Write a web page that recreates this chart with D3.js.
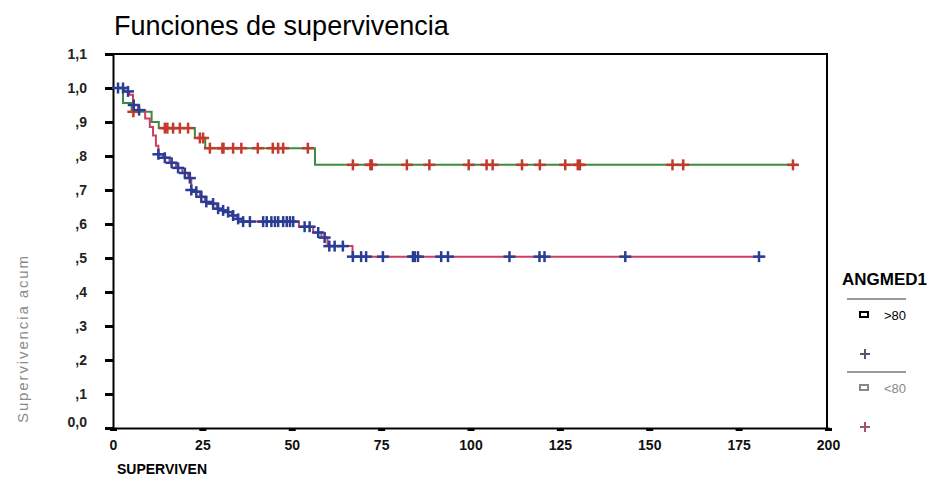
<!DOCTYPE html>
<html><head><meta charset="utf-8">
<script src="https://cdn.jsdelivr.net/npm/d3@7"></script>
<style>body{margin:0;background:#fff} svg{display:block}</style>
</head><body><svg id="c" width="945" height="502"></svg>
<script>
const title = "Funciones de supervivencia";
const xLabel = "SUPERVIVEN";
const yLabel = "Supervivencia acum";
const legendTitle = "ANGMED1";
const groupNames = [">80", "<80"];
const xTicks = [0, 25, 50, 75, 100, 125, 150, 175, 200];
const yTicks = [0, 0.1, 0.2, 0.3, 0.4, 0.5, 0.6, 0.7, 0.8, 0.9, 1.0, 1.1];
const yTickLabels = ["0,0", ",1", ",2", ",3", ",4", ",5", ",6", ",7", ",8", ",9", "1,0", "1,1"];

// Group ">80": [time, cumulative survival after the event]
const stepsGt80 = [[0, 1.0], [3.2, 0.99], [4.6, 0.98], [5.6, 0.95], [7.0, 0.935], [9.0, 0.91], [10.3, 0.885],
  [11.2, 0.86], [12.0, 0.83], [12.7, 0.805], [14.0, 0.795], [15.8, 0.78], [17.6, 0.765], [19.4, 0.75],
  [21.0, 0.735], [21.9, 0.70], [23.0, 0.695], [24.3, 0.68], [25.7, 0.665], [27.5, 0.66], [29.0, 0.645],
  [30.5, 0.64], [32.0, 0.635], [33.3, 0.625], [34.7, 0.615], [36.0, 0.607], [52.0, 0.592], [56.0, 0.575],
  [58.3, 0.56], [60.0, 0.535], [67.0, 0.504]];
const endGt80 = 182.5;
const censorGt80 = [1.4, 2.8, 4.2, 5.8, 7.3, 12.7, 14.5, 16.4, 18.2, 20.1, 21.5, 21.9, 23.3, 24.7, 26.1, 28.0,
  29.4, 30.8, 32.2, 33.6, 35.0, 36.4, 38.3, 42.0, 43.0, 44.3, 45.3, 46.2, 47.6, 48.6, 49.5, 50.4, 53.6, 55.0,
  57.4, 59.2, 60.5, 62.0, 64.3, 67.1, 69.4, 70.8, 75.5, 83.9, 84.4, 85.3, 91.8, 93.7, 110.9, 119.3, 120.7,
  143.3, 180.7];

// Group "<80"
const stepsLt80 = [[0, 1.0], [2.8, 0.956], [5.2, 0.93], [10.8, 0.90], [12.8, 0.882], [22.9, 0.853],
  [25.8, 0.823], [56.5, 0.774]];
const endLt80 = 191.5;
const censorLt80 = [5.7, 14.5, 15.2, 16.8, 18.7, 21.0, 24.3, 25.2, 27.1, 30.6, 30.9, 33.6, 35.9, 40.5, 44.7,
  46.2, 47.6, 54.5, 67.1, 72.0, 72.4, 82.2, 88.5, 99.5, 104.5, 106.2, 114.4, 119.4, 126.5, 130.0, 130.6,
  156.5, 159.5, 190.2];

const svg = d3.select("#c");
const font = "'Liberation Sans', Arial, sans-serif";
const x = d3.scaleLinear().domain([0, 200]).range([113, 828]);
const y = d3.scaleLinear().domain([0, 1.1]).range([428, 54]);

// title
svg.append("text").attr("x", 114).attr("y", 35).attr("font-family", font).attr("font-size", 27)
  .attr("fill", "#000").text(title);

// frame (top and right)
svg.append("line").attr("x1", x(0)).attr("x2", x(200)).attr("y1", y(1.1)).attr("y2", y(1.1))
  .attr("stroke", "#000").attr("stroke-width", 2);
svg.append("line").attr("x1", x(200) - 1).attr("x2", x(200) - 1).attr("y1", y(1.1)).attr("y2", y(0))
  .attr("stroke", "#000").attr("stroke-width", 2);

// axes
const yAxis = svg.append("g").attr("transform", `translate(${x(0)},0)`)
  .call(d3.axisLeft(y).tickValues(yTicks).tickSize(8).tickPadding(18)
    .tickFormat((d, i) => yTickLabels[i]));
yAxis.select(".domain").attr("stroke", "#000").attr("stroke-width", 2);
yAxis.selectAll(".tick line").attr("stroke", "#000").attr("stroke-width", 3);
yAxis.selectAll(".tick text").attr("font-family", font).attr("font-size", 14).attr("font-weight", "bold")
  .attr("fill", "#222").attr("dy", (d) => d === 0 ? "-0.1em" : "0.32em");

const xAxis = svg.append("g").attr("transform", `translate(0,${y(0)})`)
  .call(d3.axisBottom(x).tickValues(xTicks).tickSize(3).tickPadding(9).tickFormat(d3.format("d")));
xAxis.select(".domain").attr("stroke", "#000").attr("stroke-width", 2);
xAxis.selectAll(".tick line").attr("stroke", "#000").attr("stroke-width", 7);
xAxis.selectAll(".tick text").attr("font-family", font).attr("font-size", 14).attr("font-weight", "bold")
  .attr("fill", "#111");

// axis titles
svg.append("text").attr("transform", "translate(28,423) rotate(-90)").attr("font-family", font)
  .attr("font-size", 15).attr("fill", "#8a8a8a").attr("textLength", 167).attr("lengthAdjust", "spacing")
  .text(yLabel);
svg.append("text").attr("x", 117).attr("y", 474).attr("font-family", font).attr("font-size", 14)
  .attr("font-weight", "bold").attr("fill", "#000").text(xLabel);

// curves
const line = d3.line().x(d => x(d[0])).y(d => y(d[1])).curve(d3.curveStepAfter);
function survAt(steps, t) {
  let s = steps[0][1];
  for (const p of steps) if (p[0] <= t) s = p[1];
  return s;
}
const groups = [
  { steps: stepsLt80, end: endLt80, censor: censorLt80, line: "#3d8c3d", mark: "#c23a2c" },
  { steps: stepsGt80, end: endGt80, censor: censorGt80, line: "#cf3d62", mark: "#2a3d96" }
];
groups.forEach(g => {
  const pts = g.steps.concat([[g.end, g.steps[g.steps.length - 1][1]]]);
  svg.append("path").attr("d", line(pts)).attr("fill", "none").attr("stroke", g.line).attr("stroke-width", 2);
});
groups.forEach(g => {
  const m = svg.append("g");
  g.censor.forEach(t => {
    const cx = x(t), cy = y(survAt(g.steps, t));
    m.append("line").attr("x1", cx - 6).attr("x2", cx + 6).attr("y1", cy).attr("y2", cy)
      .attr("stroke", g.mark).attr("stroke-width", 2.5);
    m.append("line").attr("x1", cx).attr("x2", cx).attr("y1", cy - 5.5).attr("y2", cy + 5.5)
      .attr("stroke", g.mark).attr("stroke-width", 2.5);
  });
});

// legend
const lg = svg.append("g").attr("font-family", font);
lg.append("text").attr("x", 842).attr("y", 285).attr("font-size", 17).attr("font-weight", "bold")
  .attr("fill", "#000").text(legendTitle);
const legendRows = [
  { name: groupNames[0], y0: 299, sq: "#000", txt: "#000", cross: "#4f5a6e" },
  { name: groupNames[1], y0: 372, sq: "#888", txt: "#888", cross: "#9a5868" }
];
legendRows.forEach(r => {
  lg.append("line").attr("x1", 847).attr("x2", 906).attr("y1", r.y0).attr("y2", r.y0)
    .attr("stroke", "#9a9a9a").attr("stroke-width", 2);
  lg.append("rect").attr("x", 860).attr("y", r.y0 + 13).attr("width", 8).attr("height", 5)
    .attr("fill", "#fff").attr("stroke", r.sq).attr("stroke-width", 2);
  lg.append("text").attr("x", 884).attr("y", r.y0 + 21).attr("font-size", 13)
    .attr("fill", r.txt).text(r.name);
  const cx = 865, cy = r.y0 + 55;
  lg.append("line").attr("x1", cx - 5).attr("x2", cx + 5).attr("y1", cy).attr("y2", cy)
    .attr("stroke", r.cross).attr("stroke-width", 2);
  lg.append("line").attr("x1", cx).attr("x2", cx).attr("y1", cy - 5).attr("y2", cy + 5)
    .attr("stroke", r.cross).attr("stroke-width", 2);
});
</script></body></html>
